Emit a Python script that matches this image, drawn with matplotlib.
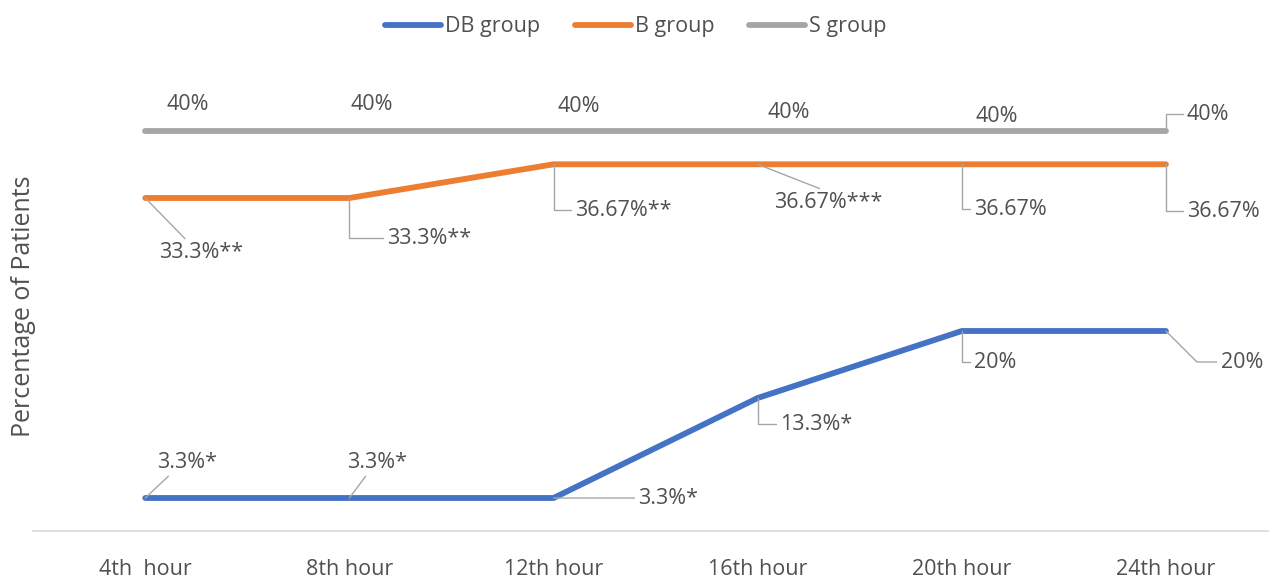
import matplotlib
matplotlib.use("Agg")
import matplotlib.pyplot as plt

plt.rcParams['font.family'] = ['Open Sans', 'DejaVu Sans']

categories = ["4th  hour", "8th hour", "12th hour", "16th hour", "20th hour", "24th hour"]
db_values = [3.3, 3.3, 3.3, 13.3, 20, 20]
b_values = [33.3, 33.3, 36.67, 36.67, 36.67, 36.67]
s_values = [40, 40, 40, 40, 40, 40]
db_labels = ["3.3%*", "3.3%*", "3.3%*", "13.3%*", "20%", "20%"]
b_labels = ["33.3%**", "33.3%**", "36.67%**", "36.67%***", "36.67%", "36.67%"]
s_labels = ["40%", "40%", "40%", "40%", "40%", "40%"]

C_DB = "#4472C4"
C_B = "#ED7D31"
C_S = "#A5A5A5"
TXT = "#505050"
LEAD = "#A6A6A6"
FS = 15.5

fig = plt.figure(figsize=(12.72, 5.79), dpi=100)
ax = fig.add_axes([33/1272, 48/579, (1268-33)/1272, 450/579])
x = list(range(len(categories)))

ax.plot(x, db_values, color=C_DB, lw=4.2, solid_capstyle='round', label="DB group", zorder=3)
ax.plot(x, b_values, color=C_B, lw=4.2, solid_capstyle='round', label="B group", zorder=3)
ax.plot(x, s_values, color=C_S, lw=4.2, solid_capstyle='round', label="S group", zorder=3)

ax.set_xlim(-0.55, 5.5)
ax.set_ylim(0, 45)
ax.set_xticks(x)
ax.set_xticklabels(categories, fontsize=FS, color=TXT)
ax.tick_params(axis='x', length=0, pad=20)
ax.set_yticks([])
for s in ['top', 'right', 'left']:
    ax.spines[s].set_visible(False)
ax.spines['bottom'].set_color('#D9D9D9')
ax.spines['bottom'].set_linewidth(1.2)
ax.set_ylabel("Percentage of Patients", fontsize=18, color=TXT, labelpad=-2)


def lab(i, y, text, dx, dy, ha='center', leader=None, relpos=(0, 0.5)):
    kw = dict(xy=(i, y), xytext=(dx, dy), textcoords='offset pixels',
              ha=ha, va='center', fontsize=FS, color=TXT, zorder=5)
    if leader is not None:
        kw['arrowprops'] = dict(arrowstyle='-', color=LEAD, lw=1.0,
                                connectionstyle=leader, relpos=relpos,
                                shrinkA=1, shrinkB=0)
    ax.annotate(text, **kw)

elbow = "angle,angleA=0,angleB=90,rad=0"

# S group
s_off = [(42, 27), (22, 27), (25, 25), (31, 18), (35, 15)]
for i, (dx, dy) in enumerate(s_off):
    lab(i, s_values[i], s_labels[i], dx, dy)
lab(5, s_values[5], s_labels[5], 21, 17, ha='left', leader=elbow)

# B group
lab(0, b_values[0], b_labels[0], 14, -55, ha='left', leader="arc3,rad=0", relpos=(0.35, 1))
lab(1, b_values[1], b_labels[1], 38, -40, ha='left', leader=elbow)
lab(2, b_values[2], b_labels[2], 22, -46, ha='left', leader=elbow)
lab(3, b_values[3], b_labels[3], 16, -38, ha='left', leader="arc3,rad=0", relpos=(0.5, 1))
lab(4, b_values[4], b_labels[4], 12, -45, ha='left', leader=elbow)
lab(5, b_values[5], b_labels[5], 21, -47, ha='left', leader=elbow)

# DB group
lab(0, db_values[0], db_labels[0], 12, 36, ha='left', leader="arc3,rad=0", relpos=(0.25, 0))
lab(1, db_values[1], db_labels[1], -2, 36, ha='left', leader="arc3,rad=0", relpos=(0.35, 0))
lab(2, db_values[2], db_labels[2], 85, 0, ha='left', leader="arc3,rad=0", relpos=(0, 0.5))
lab(3, db_values[3], db_labels[3], 22, -26, ha='left', leader=elbow)
lab(4, db_values[4], db_labels[4], 12, -31, ha='left', leader=elbow)
lab(5, db_values[5], db_labels[5], 55, -31, ha='left', leader="angle,angleA=0,angleB=-45,rad=0")

leg = fig.legend(loc='upper center', bbox_to_anchor=(0.5, 1.005), ncol=3, frameon=False,
                 fontsize=FS, handlelength=2.6, handletextpad=0.2, columnspacing=1.6)
for t in leg.get_texts():
    t.set_color(TXT)

fig.savefig("out.png", dpi=100)
